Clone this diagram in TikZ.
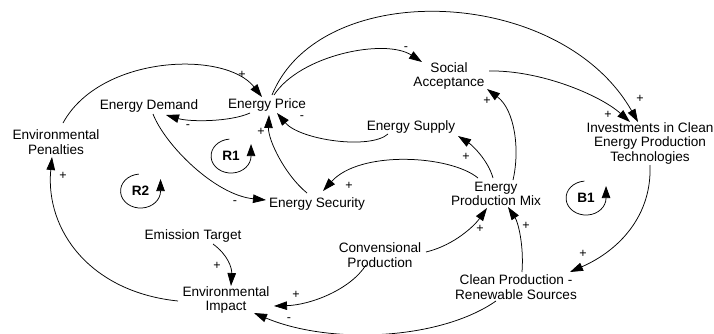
\documentclass[tikz,border=0pt]{standalone}
\usepackage{fontspec}
\setmainfont{Liberation Sans}
\usetikzlibrary{arrows.meta,calc}

\begin{document}
\begin{tikzpicture}[x=1pt,y=-1pt,
  var/.style={inner sep=1pt, align=center, font=\fontsize{13.6}{14.5}\selectfont},
  link/.style={line width=0.75pt, -{Triangle[length=13pt,width=8.5pt]}},
  pol/.style={inner sep=0pt, font=\fontsize{12.5}{12.5}\selectfont},
  loopname/.style={inner sep=0pt, font=\bfseries\fontsize{13.6}{14}\selectfont},
  cyc/.style={line width=0.75pt, -{Triangle[length=12pt,width=8.5pt]}}
]
\useasboundingbox (0,0) rectangle (714,333);

% variables
\node[var] (ep)  at (267,105) {Energy Price};
\node[var] (ed)  at (149,106) {Energy Demand};
\node[var] (pen) at (56,142)  {Environmental\\Penalties};
\node[var] (sa)  at (449,76)  {Social\\Acceptance};
\node[var] (es)  at (411,127) {Energy Supply};
\node[var] (inv) at (650,143) {Investments in Clean\\Energy Production\\Technologies};
\node[var] (sec) at (317,204) {Energy Security};
\node[var] (mix) at (496,194) {Energy\\Production Mix};
\node[var] (et)  at (193,236) {Emission Target};
\node[var] (ei)  at (226,300) {Environmental\\Impact};
\node[var] (cp)  at (380,255) {Convensional\\Production};
\node[var] (cl)  at (516,287) {Clean Production -\\Renewable Sources};

% causal links
\draw[link] ($(pen)+(7,-19)$) .. controls +(37,-68) and +(-37,-47) .. ($(ep)+(-5,-8)$);
\draw[link] ($(ep)+(-17,8)$) .. controls +(-20,9) and +(24,7) .. ($(ed)+(17,9)$);
\draw[link] ($(es)+(-23,7)$) .. controls +(-18,16) and +(23,27) .. ($(ep)+(10,8)$);
\draw[link] ($(sec)+(-10,-11)$) .. controls +(-22,-18) and +(-1,25) .. ($(ep)+(2,10)$);
\draw[link] ($(ed)+(4,8)$) .. controls +(12,31) and +(-51,-5) .. ($(sec)+(-51,-4)$);
\draw[link] ($(mix)+(-18,-16)$) .. controls +(-28,-23) and +(37,-41) .. ($(sec)+(6,-13)$);
\draw[link] ($(mix)+(-3,-16)$) .. controls +(-5,-18) and +(14,9) .. ($(es)+(47,9)$);
\draw[link] ($(mix)+(17,-14)$) .. controls +(7,-30) and +(28,21) .. ($(sa)+(38,13)$);
\draw[link] ($(ep)+(7,-10)$) .. controls +(26,-40) and +(-37,-24) .. ($(sa)+(-27,-14)$);
\draw[link] ($(ep)+(5,-10)$) .. controls +(48,-118) and +(-78,-137) .. ($(inv)+(-12,-21)$);
\draw[link] ($(sa)+(40,-5)$) .. controls +(51,-1) and +(-30,-27) .. ($(inv)+(-20,-21)$);
\draw[link] ($(inv)+(0,22)$) .. controls +(2,50) and +(50,-22) .. ($(cl)+(54,-15)$);
\draw[link] ($(cl)+(6,-15)$) .. controls +(2,-27) and +(10,15) .. ($(mix)+(12,13)$);
\draw[link] ($(cp)+(46,-3)$) .. controls +(29,-7) and +(-12,17) .. ($(mix)+(-9,14)$);
\draw[link] ($(cp)+(-14,10)$) .. controls +(-16,25) and +(36,-1) .. ($(ei)+(48,6)$);
\draw[link] ($(cl)+(-20,14)$) .. controls +(-56,39) and +(76,32) .. ($(ei)+(28,13)$);
\draw[link] ($(et)+(20,8)$) .. controls +(15,11) and +(1,-18) .. ($(ei)+(5,-14)$);
\draw[link] ($(ei)+(-48,1)$) .. controls +(-88,-9) and +(-7,73) .. ($(pen)+(-4,15)$);

% polarities
\node[pol] (p1)  at (242,75)  {+};
\node[pol] (p2)  at (188,127) {-};
\node[pol] (p3)  at (302,118) {-};
\node[pol] (p4)  at (261,132) {+};
\node[pol] (p5)  at (235,203) {-};
\node[pol] (p6)  at (349,186) {+};
\node[pol] (p7)  at (466,157) {+};
\node[pol] (p8)  at (487,101) {+};
\node[pol] (p9)  at (406,49)  {-};
\node[pol] (p10) at (640,99)  {+};
\node[pol] (p11) at (608,115) {+};
\node[pol] (p12) at (583,254) {+};
\node[pol] (p13) at (526,226) {+};
\node[pol] (p14) at (480,229) {+};
\node[pol] (p15) at (296,295) {+};
\node[pol] (p16) at (289,320) {-};
\node[pol] (p17) at (217,266) {+};
\node[pol] (p18) at (63,176)  {+};

% loop markers
\node[loopname] (r1) at (231,156)   {R1};
\node[loopname] (r2) at (140.5,191) {R2};
\node[loopname] (b1) at (586,198)   {B1};
\foreach \lp in {r1,r2,b1}
  \draw[cyc] ($(\lp)+(-1.7,-16.9)$) arc[start angle=-95, end angle=-360, x radius=20, y radius=17] -- ++(0,-12);
\end{tikzpicture}
\end{document}
